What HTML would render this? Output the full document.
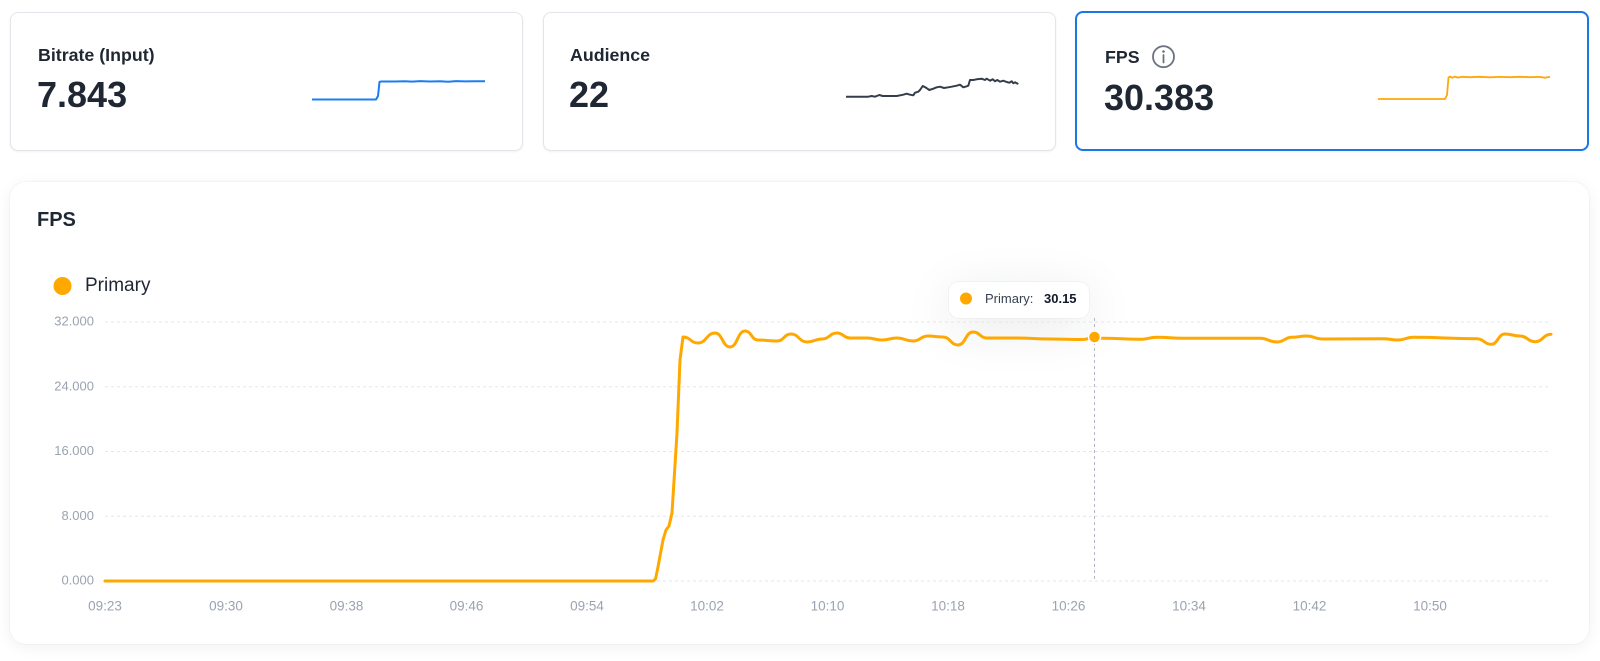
<!DOCTYPE html>
<html>
<head>
<meta charset="utf-8">
<style>
  html, body { margin:0; padding:0; background:#ffffff; }
  body { width:1600px; height:661px; position:relative; overflow:hidden; font-family:"Liberation Sans", Arial, sans-serif; }
  .card { position:absolute; top:12px; width:511px; height:137px; border:1px solid #e2e5e9; border-radius:8px; background:#fff; box-shadow:0 1px 2px rgba(0,0,0,0.06); }
  .card.sel { border:2px solid #1b76e6; top:11px; width:510px; height:136px; }
  .lbl { position:absolute; font-size:17.8px; font-weight:bold; color:#1f2733; line-height:18px; white-space:nowrap; }
  .val { position:absolute; font-size:36px; font-weight:bold; color:#1f2733; line-height:36px; white-space:nowrap; }
  .main { position:absolute; left:10px; top:182px; width:1579px; height:462px; border-radius:16px; background:#fff; box-shadow:0 3px 16px rgba(0,0,0,0.06), 0 0 0 1px rgba(0,0,0,0.025); }
  .tip { position:absolute; left:949px; top:282px; width:140px; height:36px; border-radius:10px; background:#fff; box-shadow:0 10px 50px rgba(30,40,60,0.10), 0 0 0 1px rgba(0,0,0,0.03); }
  svg { position:absolute; left:0; top:0; }
</style>
</head>
<body>
<div class="card" style="left:10px;"></div>
<div class="card" style="left:543px;"></div>
<div class="card sel" style="left:1075px;"></div>

<div class="lbl" style="left:38px; top:46px;">Bitrate (Input)</div>
<div class="val" style="left:37px; top:77px;">7.843</div>

<div class="lbl" style="left:570px; top:46px;">Audience</div>
<div class="val" style="left:569px; top:77px;">22</div>

<div class="lbl" style="left:1105px; top:47.5px;">FPS</div>
<div class="val" style="left:1104px; top:79.5px;">30.383</div>

<div class="main"></div>

<div style="position:absolute; left:37px; top:210px; font-size:20px; font-weight:bold; color:#1f2733; line-height:20px;">FPS</div>
<div style="position:absolute; left:85px; top:276px; font-size:19px; color:#1f2733; line-height:20px;">Primary</div>

<div class="tip"></div>

<svg width="1600" height="661" viewBox="0 0 1600 661" xmlns="http://www.w3.org/2000/svg">
<circle cx="1163.5" cy="56.7" r="10.5" fill="none" stroke="#6b7380" stroke-width="1.8"/>
<circle cx="1163.5" cy="51.5" r="1.3" fill="#6b7380"/>
<line x1="1163.5" y1="55" x2="1163.5" y2="62.5" stroke="#6b7380" stroke-width="1.8" stroke-linecap="round"/>

<path d="M312,99.5 L376,99.5 L378,96 L379.5,82 L381,81.5 L395,81.5 L405,81.2 L412,81.6 L420,81.1 L430,81.5 L440,81.2 L448,81.7 L456,81.1 L465,81.4 L475,81.2 L485,81.3" fill="none" stroke="#1a7ef2" stroke-width="2" stroke-linejoin="round"/>

<path d="M846,96.7 L868.3,96.7 L871.7,96 L875,96.7 L879.3,95 L882.7,96 L896.7,96 L903.3,94.7 L906.7,93.7 L910,94.7 L913.3,95.3 L915,92.7 L918.3,91.7 L920,90 L922.7,86 L926,87.7 L929.3,90 L933.3,88.7 L936.7,87.3 L940,86.7 L944,88 L948.3,87.3 L951.7,86.7 L956.7,85.7 L960,84.7 L963.3,87.3 L966.7,86.3 L968.3,85.7 L970,80 L973.3,80 L976.7,79.3 L981.7,78.7 L985,80 L986.7,78.7 L990,80.7 L992.7,79.3 L995,81.3 L997.3,80 L1000,81.7 L1003.3,80.7 L1006.7,82 L1009.3,82.7 L1011.7,81.3 L1013.3,83.3 L1015,82.3 L1018.3,84" fill="none" stroke="#343d4b" stroke-width="2" stroke-linejoin="round"/>

<path d="M1378,99 L1445,99 L1447,95 L1448.5,77.5 L1450,76.5 L1452,77.8 L1455,76.6 L1458,77.6 L1462,76.8 L1470,77.2 L1480,76.8 L1490,77.3 L1500,76.9 L1510,77.2 L1520,76.8 L1530,77.2 L1540,76.9 L1545,77.8 L1550,76.8" fill="none" stroke="#ffa70a" stroke-width="1.8" stroke-linejoin="round"/>

<circle cx="62.5" cy="286" r="9" fill="#ffa800"/>

<g stroke="#e3e6ea" stroke-width="1" stroke-dasharray="3 3">
<line x1="105" y1="322" x2="1551" y2="322"/>
<line x1="105" y1="386.8" x2="1551" y2="386.8"/>
<line x1="105" y1="451.5" x2="1551" y2="451.5"/>
<line x1="105" y1="516.2" x2="1551" y2="516.2"/>
<line x1="105" y1="581" x2="1551" y2="581"/>
</g>

<g font-family="Liberation Sans, Arial, sans-serif" font-size="13" fill="#9aa3b0" text-anchor="end">
<text x="94" y="325.7">32.000</text>
<text x="94" y="390.5">24.000</text>
<text x="94" y="455.2">16.000</text>
<text x="94" y="519.9">8.000</text>
<text x="94" y="584.7">0.000</text>
</g>

<g font-family="Liberation Sans, Arial, sans-serif" font-size="13.5" fill="#9aa3b0" text-anchor="middle">
<text x="105" y="610.6">09:23</text>
<text x="226" y="610.6">09:30</text>
<text x="346.5" y="610.6">09:38</text>
<text x="466.5" y="610.6">09:46</text>
<text x="587" y="610.6">09:54</text>
<text x="707" y="610.6">10:02</text>
<text x="827.5" y="610.6">10:10</text>
<text x="948" y="610.6">10:18</text>
<text x="1068.5" y="610.6">10:26</text>
<text x="1189" y="610.6">10:34</text>
<text x="1309.5" y="610.6">10:42</text>
<text x="1430" y="610.6">10:50</text>
</g>

<line x1="1094.5" y1="318" x2="1094.5" y2="581" stroke="#b3b8c0" stroke-width="1" stroke-dasharray="3 3"/>

<path d="M105,581 L653,581 L655.5,579 L658,567 L663,540 L666,530 L669,526 L672,513 L677,433 L680,360 L683,337 C690.5,337 690.5,343 698,343 C706.5,343 706.5,333 715,333 C722.5,333 722.5,347 730,347 C737.5,347 737.5,331 745,331 C751.5,331 751.5,340 758,340 C767.5,340 767.5,341 777,341 C784,341 784,334 791,334 C799,334 799,342 807,342 C814.5,342 814.5,339 822,339 C829.5,339 829.5,333 837,333 C843.5,333 843.5,338 850,338 C858.5,338 858.5,338 867,338 C874.5,338 874.5,340 882,340 C889.5,340 889.5,338 897,338 C905,338 905,341 913,341 C920.5,341 920.5,336 928,336 C935.5,336 935.5,337 943,337 C950.5,337 950.5,345 958,345 C965.5,345 965.5,332 973,332 C980,332 980,338 987,338 C1002,338 1002,338 1017,338 C1033.5,338 1033.5,339 1050,339 C1066.5,339 1066.5,339.5 1083,339.5 C1088.75,339.5 1088.75,337 1094.5,337 C1098.75,337 1098.75,338.3 1103,338.3 C1121.5,338.3 1121.5,339.3 1140,339.3 C1148.5,339.3 1148.5,337.3 1157,337.3 C1170,337.3 1170,338.3 1183,338.3 C1221.5,338.3 1221.5,338.3 1260,338.3 C1268.5,338.3 1268.5,342 1277,342 C1284.5,342 1284.5,337.3 1292,337.3 C1299.5,337.3 1299.5,336 1307,336 C1314.5,336 1314.5,339 1322,339 C1352.5,339 1352.5,338.7 1383,338.7 C1390.5,338.7 1390.5,340 1398,340 C1405.5,340 1405.5,337.3 1413,337.3 C1445,337.3 1445,338.7 1477,338.7 C1484,338.7 1484,344.3 1491,344.3 C1498,344.3 1498,334 1505,334 C1512.5,334 1512.5,336 1520,336 C1527.5,336 1527.5,341.7 1535,341.7 C1543,341.7 1543,334.3 1551,334.3" fill="none" stroke="#ffa800" stroke-width="3" stroke-linejoin="round" stroke-linecap="round"/>

<circle cx="1094.5" cy="337" r="6" fill="#ffa800" stroke="#ffffff" stroke-width="1.5"/>

<circle cx="966" cy="298.5" r="6" fill="#ffa800"/>
<text x="985" y="303" font-family="Liberation Sans, Arial, sans-serif" font-size="13" fill="#374151">Primary:</text>
<text x="1044" y="303" font-family="Liberation Sans, Arial, sans-serif" font-size="13" font-weight="bold" fill="#111827">30.15</text>
</svg>
</body>
</html>
